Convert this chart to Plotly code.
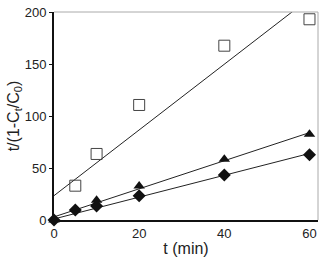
import plotly.graph_objects as go

t_min = [0, 5, 10, 20, 40, 60]
sq_x = [5, 10, 20, 40, 60]
sq_y = [33, 63.5, 110.6, 167.6, 193]
tri_y = [0, 10.3, 19, 32.7, 58.3, 82.4]
dia_y = [0, 9.6, 13.5, 23.4, 43.3, 62.8]
# linear fits: (slope, intercept)
fit_sq = (3.16, 23.4)
fit_tri = (1.35, 3.0)
fit_dia = (1.05, 1.0)
fit_x = [0, 60]

fig = go.Figure()
for s, b in (fit_sq, fit_tri, fit_dia):
    fig.add_trace(go.Scatter(x=fit_x, y=[s * x + b for x in fit_x], mode="lines",
                             line=dict(color="#222", width=1), showlegend=False,
                             hoverinfo="skip"))
fig.add_trace(go.Scatter(x=sq_x, y=sq_y, mode="markers", cliponaxis=False,
                         marker=dict(symbol="square-open", size=11, color="#444",
                                     line=dict(width=1)), showlegend=False))
fig.add_trace(go.Scatter(x=t_min, y=tri_y, mode="markers", cliponaxis=False,
                         marker=dict(symbol="triangle-up", size=10, color="#111"),
                         showlegend=False))
fig.add_trace(go.Scatter(x=t_min, y=dia_y, mode="markers", cliponaxis=False,
                         marker=dict(symbol="diamond", size=10, color="#111"),
                         showlegend=False))

fig.update_layout(
    width=325, height=261, margin=dict(l=54, r=7, t=12, b=41, autoexpand=False),
    paper_bgcolor="white", plot_bgcolor="white",
    font=dict(family="Liberation Sans, Arial, sans-serif", size=13, color="#222"),
    xaxis=dict(range=[0, 62], tickvals=[0, 20, 40, 60], showgrid=False, zeroline=False,
               showline=True, linecolor="#111", linewidth=2, ticks="", automargin=False,
               title=dict(text="t (min)", standoff=3)),
    yaxis=dict(range=[0, 200], tickvals=[0, 50, 100, 150, 200], showgrid=False,
               zeroline=False, showline=True, linecolor="#111", linewidth=2,
               ticks="outside", ticklen=3, tickcolor="#111", automargin=False,
               title=dict(text="t/(1-C<sub>t</sub>/C<sub>0</sub>)", standoff=1)),
    shapes=[
        dict(type="line", xref="paper", yref="paper", x0=0, x1=1, y0=1, y1=1,
             line=dict(color="#aaa", width=1)),
        dict(type="line", xref="paper", yref="paper", x0=1, x1=1, y0=0, y1=1,
             line=dict(color="#aaa", width=1)),
    ],
)
fig.write_html("out.html", config={"displayModeBar": False},
               post_script="document.body.style.margin='0';")
